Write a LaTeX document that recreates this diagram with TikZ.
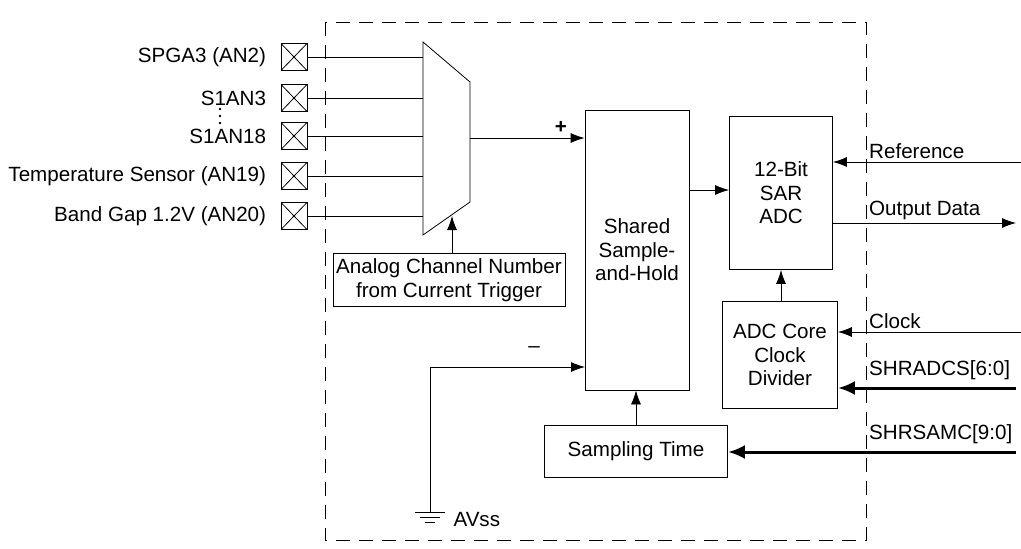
\documentclass[tikz,border=0pt]{standalone}
\usepackage{fontspec}
\setmainfont{Liberation Sans}
\usetikzlibrary{positioning,calc,arrows.meta}

\begin{document}
\begin{tikzpicture}[x=1pt,y=-1pt,
  font=\fontsize{20.6}{23.5}\selectfont,
  blk/.style={draw,line width=0.8pt,inner sep=0pt,align=center},
  pin/.style={draw,line width=0.8pt,minimum width=26pt,minimum height=27pt,inner sep=0pt,
    path picture={\draw (path picture bounding box.north west)--(path picture bounding box.south east)
      (path picture bounding box.south west)--(path picture bounding box.north east);}},
  arr/.style={-{Latex[length=14pt,width=10pt]},line width=0.8pt},
  bus/.style={-{Latex[length=17pt,width=14pt]},line width=3pt}]
\useasboundingbox (0,0) rectangle (1021,549);
\draw[dashed,dash pattern=on 14pt off 9pt,line width=0.8pt] (325,22) rectangle (866,540);

% input pins
\foreach \name/\y/\txt in {p2/57/SPGA3 (AN2),p3/98/S1AN3,p18/136/S1AN18,p19/176/Temperature Sensor (AN19),p20/216/Band Gap 1.2V (AN20)}{
  \node[pin] (\name) at (294,\y) {};
  \node[left=11pt of \name] {\txt};
  \draw[line width=0.8pt] (\name.east) -- (423,\y);
}
\foreach \y in {109,116,123} \fill (220,\y) circle (1.4pt);

% multiplexer
\coordinate (mtl) at (423,42);
\coordinate (mtr) at (470,82);
\coordinate (mbr) at (470,202);
\coordinate (mbl) at (423,235);
\draw[line width=0.8pt] (mtl) -- (mtr) -- (mbr) -- (mbl) -- cycle;
\coordinate (mout) at (470,138);
\coordinate (msel) at (452,216);

\node[blk,minimum width=232pt,minimum height=53pt] (chan) at (449,280) {Analog Channel Number\\from Current Trigger};
\draw[arr] (chan.north -| msel) -- (msel);

% sample and hold
\node[blk,minimum width=104pt,minimum height=280pt] (sh) at (637,250) {Shared\\Sample-\\and-Hold};
\draw[arr] (mout) -- (mout -| sh.west);
\node at (561,127) {\textbf{+}};
\node at (534,350) {--};

% ground
\coordinate (gnd) at (430,512);
\draw[arr] (gnd) |- (585,367);
\draw[line width=0.8pt] ($(gnd)+(-15,0)$) -- ($(gnd)+(15,0)$)
  ($(gnd)+(-10,5)$) -- ($(gnd)+(10,5)$) ($(gnd)+(-5,10)$) -- ($(gnd)+(5,10)$);
\node[anchor=west] (avss) at (450,520) {AVss};

% sampling time
\node[blk,minimum width=183pt,minimum height=52pt] (samp) at (636,451) {Sampling Time};
\draw[arr] (samp.north) -- (samp.north |- sh.south);

% SAR ADC
\node[blk,minimum width=103pt,minimum height=153pt] (sar) at (781,193) {12-Bit\\SAR\\ADC};
\draw[arr] (sh.east |- 0,190) -- (sar.west |- 0,190);

% clock divider
\node[blk,minimum width=115pt,minimum height=107pt] (div) at (780,355) {ADC Core\\Clock\\Divider};
\draw[arr] (div.north -| sar.south) -- (sar.south);

% external signals
\coordinate (ref) at (1021,162);
\coordinate (clk) at (1021,332);
\coordinate (adcs) at (1016,388);
\coordinate (samc) at (1016,452);
\coordinate (outd) at (1016,223);
\draw[arr] (ref) -- (ref -| sar.east);
\node[anchor=south west,inner sep=3pt] at (866,162) {Reference};
\draw[arr] (sar.east |- outd) -- (outd);
\node[anchor=south west,inner sep=3pt] at (866,223) {Output Data};
\draw[arr] (clk) -- (clk -| div.east);
\node[anchor=south west,inner sep=3pt] at (866,332) {Clock};
\draw[bus] (adcs) -- (adcs -| div.east);
\node[anchor=south west,inner sep=3pt] at (866,383) {SHRADCS[6:0]};
\draw[bus] (samc) -- (samc -| samp.east);
\node[anchor=south west,inner sep=3pt] at (866,447) {SHRSAMC[9:0]};
\end{tikzpicture}
\end{document}
